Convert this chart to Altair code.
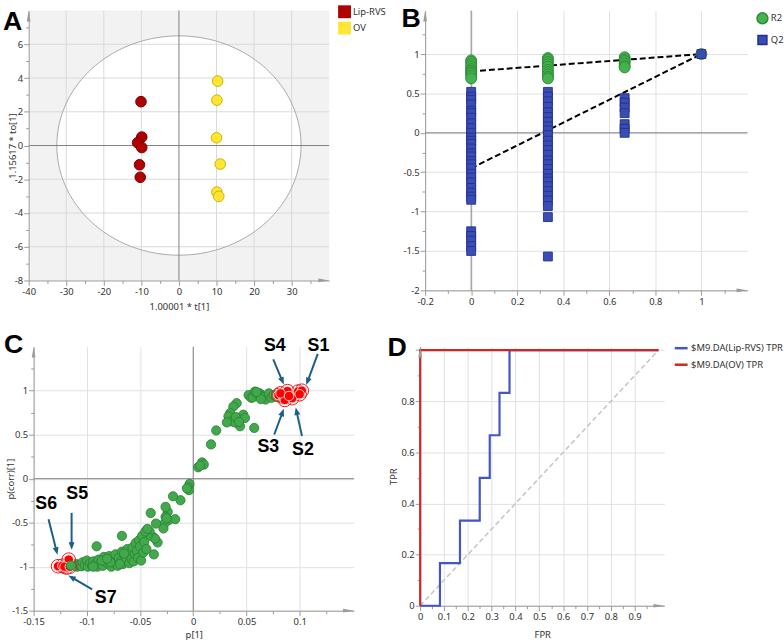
import math
import altair as alt
import numpy as np
import pandas as pd

FONT = "Noto Sans"
BOLD = "Liberation Sans"
AX = "#9b9b9b"
GRIDC = "#e1e1e1"
ZERO = "#7f7f7f"
LBL = "#333333"

# ---------------- Panel A data (scores plot) ----------------
a_group = ["Lip-RVS"] * 6 + ["OV"] * 6
a_t = [-10.1, -9.9, -11.0, -9.9, -10.5, -10.3, 10.3, 10.1, 10.0, 11.0, 10.1, 10.6]
a_to = [2.6, 0.5, 0.17, -0.12, -1.14, -1.88, 3.82, 2.69, 0.46, -1.1, -2.76, -3.01]
a_colors = ["#b00000", "#ffe633"]
a_strokes = ["#7a0000", "#c9b300"]
ell_a, ell_b = 32.5, 6.5
a_grid_x = [-30, -20, -10, 10, 20, 30]
a_grid_y = [-6, -4, -2, 2, 4, 6]

# ---------------- Panel B data (permutation test) ----------------
r2_x = [0] * 10 + [0.3333] * 10 + [0.6667] * 6 + [1]
r2_y = [0.92, 0.90, 0.87, 0.84, 0.81, 0.79, 0.77, 0.75, 0.72, 0.69,
        0.95, 0.93, 0.90, 0.87, 0.84, 0.80, 0.77, 0.74, 0.71, 0.69,
        0.96, 0.93, 0.91, 0.88, 0.85, 0.83,
        1.0]
q2_x = [0] * 31 + [0.3333] * 27 + [0.6667] * 7 + [1]
q2_y = [0.52, 0.46, 0.42, 0.36, 0.28, 0.25, 0.19, 0.12, 0.06, 0.0, -0.06, -0.1, -0.14,
        -0.2, -0.26, -0.3, -0.36, -0.4, -0.45, -0.52, -0.57, -0.63, -0.7, -0.76, -0.81,
        -0.85, -1.25, -1.31, -1.37, -1.44, -1.5,
        0.52, 0.46, 0.4, 0.33, 0.26, 0.2, 0.14, 0.08, 0.03, -0.03, -0.1, -0.16, -0.22,
        -0.28, -0.35, -0.4, -0.46, -0.52, -0.58, -0.62, -0.68, -0.74, -0.8, -0.86, -0.93,
        -1.07, -1.57,
        0.44, 0.38, 0.32, 0.25, 0.11, 0.05, 0.0,
        1.0]
b_line_series = ["R2", "R2", "Q2", "Q2"]
b_line_x = [0, 1, 0, 1]
b_line_y = [0.78, 1.0, -0.45, 1.0]

# ---------------- Panel C data (S-plot) ----------------
c_green = [
    (0.052, 0.95), (0.0545, 0.92), (0.056, 0.925), (0.058, 0.99), (0.0605, 0.96),
    (0.0625, 0.97), (0.064, 0.94), (0.0665, 0.93), (0.068, 0.90), (0.071, 0.97),
    (0.0735, 0.92), (0.0755, 0.95), (0.078, 0.93), (0.0635, 0.905), (0.0595, 0.985),
    (0.0408, 0.858), (0.0377, 0.82), (0.0347, 0.745), (0.0331, 0.71), (0.0362, 0.652),
    (0.0424, 0.69), (0.047, 0.727), (0.0486, 0.69), (0.044, 0.596), (0.039, 0.64),
    (0.0573, 0.577), (0.0316, 0.64), (0.040, 0.70), (0.043, 0.645),
    (0.0216, 0.548), (0.0167, 0.39), (0.0083, 0.185), (0.0046, 0.13), (0.0099, 0.16),
    (0.0065, 0.15),
    (-0.0035, -0.06), (-0.0045, -0.10), (-0.004, -0.13), (-0.006, -0.11), (-0.012, -0.245),
    (-0.019, -0.20),
    (-0.024, -0.377), (-0.026, -0.32), (-0.026, -0.433), (-0.023, -0.47), (-0.027, -0.51),
    (-0.017, -0.46), (-0.028, -0.565), (-0.025, -0.45),
    (-0.040, -0.39), (-0.035, -0.51), (-0.038, -0.66), (-0.0335, -0.725), (-0.037, -0.86),
    (-0.041, -0.60), (-0.036, -0.68), (-0.043, -0.65),
    (-0.112, -0.99), (-0.110, -0.97), (-0.109, -1.0), (-0.107, -0.98), (-0.105, -0.995),
    (-0.104, -0.95), (-0.102, -0.98), (-0.100, -0.93), (-0.099, -1.0), (-0.097, -0.96),
    (-0.095, -0.99), (-0.094, -0.94), (-0.092, -0.97), (-0.090, -1.0), (-0.089, -0.92),
    (-0.087, -0.96), (-0.085, -0.99), (-0.084, -0.89), (-0.082, -0.94), (-0.080, -0.97),
    (-0.079, -0.88), (-0.077, -1.0), (-0.076, -0.92), (-0.074, -0.96), (-0.073, -0.86),
    (-0.071, -0.99), (-0.070, -0.90), (-0.068, -0.94), (-0.067, -0.83), (-0.066, -0.97),
    (-0.064, -0.88), (-0.063, -0.92), (-0.062, -0.80), (-0.060, -0.96), (-0.059, -0.85),
    (-0.058, -0.91), (-0.057, -0.78), (-0.056, -0.94), (-0.055, -0.86), (-0.054, -0.73),
    (-0.053, -0.82), (-0.052, -0.90), (-0.051, -0.70), (-0.050, -0.77), (-0.049, -0.93),
    (-0.048, -0.65), (-0.047, -0.84), (-0.046, -0.72), (-0.045, -0.60), (-0.044, -0.80),
    (-0.043, -0.57), (-0.078, -0.95), (-0.086, -0.93), (-0.094, -1.0), (-0.081, -0.91),
    (-0.069, -0.97), (-0.065, -0.85), (-0.0908, -0.768), (-0.067, -0.65),
]
c_red = [
    (0.080, 0.95), (0.0845, 0.93), (0.0885, 0.995), (0.086, 0.895), (0.093, 0.915),
    (0.0985, 0.99), (0.102, 1.0), (0.100, 0.96), (0.082, 0.97), (0.090, 0.94),
    (-0.127, -0.995), (-0.123, -0.99), (-0.117, -0.92), (-0.119, -1.01), (-0.121, -1.0),
    (-0.116, -1.0),
]
c_green_front = [(-0.115, -0.987)]
c_lab_text = ["S1", "S2", "S3", "S4", "S5", "S6", "S7"]
c_lab_x = [0.1177, 0.1031, 0.0705, 0.0767, -0.109, -0.1382, -0.0823]
c_lab_y = [1.513, 0.326, 0.364, 1.513, -0.179, -0.291, -1.358]
c_arr_tx = [0.117, 0.1022, 0.0761, 0.0752, -0.1143, -0.136, -0.095]
c_arr_ty = [1.419, 0.484, 0.502, 1.356, -0.388, -0.46, -1.257]
c_arr_hx = [0.1062, 0.0963, 0.0851, 0.0851, -0.1143, -0.1276, -0.1174]
c_arr_hy = [1.064, 0.809, 0.794, 1.071, -0.808, -0.864, -1.10]

# ---------------- Panel D data (ROC) ----------------
lip_fpr = [0, 0.083, 0.083, 0.167, 0.167, 0.25, 0.25, 0.292, 0.292, 0.333, 0.333, 0.375, 0.375, 1.0]
lip_tpr = [0, 0, 0.167, 0.167, 0.333, 0.333, 0.5, 0.5, 0.667, 0.667, 0.833, 0.833, 1.0, 1.0]
ov_fpr = [0, 0, 1.0]
ov_tpr = [0, 1.0, 1.0]
d_series = ["$M9.DA(Lip-RVS) TPR", "$M9.DA(OV) TPR"]
d_colors = ["#4256c6", "#d42424"]
diag_x = [0, 1]
diag_y = [0, 1]

DUMMY = pd.DataFrame({"k": [0]})
UP = "M0,-1L0.34,1L-0.34,1Z"
RIGHT = "M1,0L-1,0.34L-1,-0.34Z"
HEAD = "M0,0L0.75,1.9L-0.75,1.9Z"


def tick_values(start, stop, step):
    n = int(round((stop - start) / step))
    return [round(start + i * step, 6) for i in range(n + 1)]


def make_axis(values, major, title=None, label_below=None, grid=True, zindex=0, tx=None, ty=None):
    test = f"abs(datum.value / {major} - round(datum.value / {major})) < 0.001"
    ltest = test if label_below is None else f"({test}) && datum.value < {label_below}"
    kw = dict(values=values, labelExpr=f"({ltest}) ? '' + datum.value : ''",
              tickSize={"condition": {"test": test, "value": 5}, "value": 3},
              labelOverlap=False, labelFlush=False, grid=grid, zindex=zindex, title=title)
    if grid:
        kw["gridOpacity"] = {"condition": {"test": test, "value": 1}, "value": 0}
    if tx is not None:
        kw["titleX"] = tx
        kw["titleBaseline"] = "middle"
    if ty is not None:
        kw["titleY"] = ty
        kw["titleBaseline"] = "middle"
    return alt.Axis(**kw)


def axis_arrows(W, H):
    up = alt.Chart(DUMMY).mark_point(shape=UP, filled=True, size=121, color=AX, opacity=1).encode(
        x=alt.value(0), y=alt.value(5.5))
    rt = alt.Chart(DUMMY).mark_point(shape=RIGHT, filled=True, size=121, color=AX, opacity=1).encode(
        x=alt.value(W - 5.5), y=alt.value(H))
    return [up, rt]


def letter(ch, dx, dy):
    return alt.Chart(pd.DataFrame({"t": [ch]})).mark_text(
        font=BOLD, fontSize=27, fontWeight="bold", align="left", baseline="alphabetic", color="black"
    ).encode(text="t:N", x=alt.value(dx), y=alt.value(dy))


def zero_rules(X, Y):
    z = pd.DataFrame({"v": [0]})
    return [alt.Chart(z).mark_rule(color=ZERO, strokeWidth=1).encode(x=X("v")),
            alt.Chart(z).mark_rule(color=ZERO, strokeWidth=1).encode(y=Y("v"))]


# ================= Panel A =================
WA, HA = 304, 273
sxA = alt.Scale(domain=[-40, 40], nice=False, zero=False)
syA = alt.Scale(domain=[-8, 8], nice=False, zero=False)
axAx = make_axis(tick_values(-40, 35, 5), 10, "1.00001 * t[1]", grid=False, zindex=1, ty=26)
axAy = make_axis(tick_values(-8, 7, 1), 2, "1.15617 * to[1]", grid=False, zindex=1, tx=-16)


def XA(f):
    return alt.X(f"{f}:Q", scale=sxA, axis=axAx)


def YA(f):
    return alt.Y(f"{f}:Q", scale=syA, axis=axAy)


th_half = np.linspace(0, np.pi, 181)
ell_half = pd.DataFrame({"x": ell_a * np.cos(th_half), "lo": -ell_b * np.sin(th_half),
                         "hi": ell_b * np.sin(th_half)})
th_full = np.linspace(0, 2 * np.pi, 361)
ell_full = pd.DataFrame({"i": np.arange(361), "x": ell_a * np.cos(th_full), "y": ell_b * np.sin(th_full)})
dfA = pd.DataFrame({"g": a_group, "t": a_t, "to": a_to})

A_bg = alt.Chart(DUMMY).mark_rect(color="#f2f2f2").encode(
    x=alt.value(0), x2=alt.value(WA), y=alt.value(0), y2=alt.value(HA))
A_white = alt.Chart(ell_half).mark_area(color="white", opacity=1).encode(
    x=XA("x"), y=YA("lo"), y2=alt.Y2("hi:Q"))
A_gx = alt.Chart(pd.DataFrame({"v": a_grid_x})).mark_rule(color="#dadada").encode(x=XA("v"))
A_gy = alt.Chart(pd.DataFrame({"v": a_grid_y})).mark_rule(color="#dadada").encode(y=YA("v"))
A_ell = alt.Chart(ell_full).mark_line(color="#a6a6a6", strokeWidth=1).encode(
    x=XA("x"), y=YA("y"), order="i:Q")
A_pts = alt.Chart(dfA).mark_point(filled=True, size=115, opacity=1, strokeWidth=1).encode(
    x=XA("t"), y=YA("to"),
    color=alt.Color("g:N", scale=alt.Scale(domain=["Lip-RVS", "OV"], range=a_colors),
                    legend=alt.Legend(orient="none", legendX=313, legendY=-5.3, title=None,
                                      symbolType="square", symbolSize=169, symbolStrokeWidth=0,
                                      symbolOpacity=1, rowPadding=3.5, labelOffset=2, padding=0)),
    stroke=alt.Stroke("g:N", scale=alt.Scale(domain=["Lip-RVS", "OV"], range=a_strokes), legend=None),
)
panelA = alt.layer(A_bg, A_white, A_gx, A_gy, A_ell, *zero_rules(XA, YA), A_pts,
                   *axis_arrows(WA, HA), letter("A", -26, 20)).properties(width=WA, height=HA)

# ================= Panel B =================
WB, HB = 326, 283
sxB = alt.Scale(domain=[-0.2, 1.2], nice=False, zero=False)
syB = alt.Scale(domain=[-2, 1.552], nice=False, zero=False)
axBx = make_axis(tick_values(-0.2, 1.1, 0.1), 0.2)
axBy = make_axis(tick_values(-2, 1.25, 0.25), 0.5)


def XB(f):
    return alt.X(f"{f}:Q", scale=sxB, axis=axBx)


def YB(f):
    return alt.Y(f"{f}:Q", scale=syB, axis=axBy)


dfB = pd.DataFrame({"s": ["R2"] * len(r2_x) + ["Q2"] * len(q2_x),
                    "x": r2_x + q2_x, "y": r2_y + q2_y})
dfBl = pd.DataFrame({"s": b_line_series, "x": b_line_x, "y": b_line_y})
B_lines = alt.Chart(dfBl).mark_line(color="black", strokeWidth=2, strokeDash=[6, 3]).encode(
    x=XB("x"), y=YB("y"), detail="s:N")
legB = alt.Legend(orient="none", legendX=334.7, legendY=1.3, title=None,
                  symbolSize=100, rowPadding=6, labelOffset=2, padding=0, symbolOpacity=1)
B_pts = alt.Chart(dfB).mark_point(filled=True, opacity=1, strokeWidth=0.9).encode(
    x=XB("x"), y=YB("y"),
    color=alt.Color("s:N", scale=alt.Scale(domain=["R2", "Q2"], range=["#46b14f", "#3a4db6"]),
                    legend=legB),
    shape=alt.Shape("s:N", scale=alt.Scale(domain=["R2", "Q2"], range=["circle", "square"]),
                    legend=legB),
    stroke=alt.Stroke("s:N", scale=alt.Scale(domain=["R2", "Q2"], range=["#2c8a36", "#22308a"]),
                      legend=None),
    size=alt.Size("s:N", scale=alt.Scale(domain=["R2", "Q2"], range=[121, 81]), legend=None),
)
panelB = alt.layer(*zero_rules(XB, YB), B_lines, B_pts, *axis_arrows(WB, HB),
                   letter("B", -24, 17)).properties(width=WB, height=HB)

# ================= Panel C =================
WC, HC = 324, 267
xdomC = [-0.15, 0.151]
ydomC = [-1.5, 1.5]
sxC = alt.Scale(domain=xdomC, nice=False, zero=False)
syC = alt.Scale(domain=ydomC, nice=False, zero=False)
axCx = make_axis(tick_values(-0.15, 0.125, 0.025), 0.05, "p[1]", ty=24)
axCy = make_axis(tick_values(-1.5, 1.25, 0.25), 0.5, "p(corr)[1]", tx=-23)


def XC(f):
    return alt.X(f"{f}:Q", scale=sxC, axis=axCx)


def YC(f):
    return alt.Y(f"{f}:Q", scale=syC, axis=axCy)


dfCg = pd.DataFrame(c_green, columns=["x", "y"])
dfCr = pd.DataFrame(c_red, columns=["x", "y"])
dfCf = pd.DataFrame(c_green_front, columns=["x", "y"])
pxC = WC / (xdomC[1] - xdomC[0])
pyC = HC / (ydomC[1] - ydomC[0])
arr_rows = []
for tx, ty, hx, hy in zip(c_arr_tx, c_arr_ty, c_arr_hx, c_arr_hy):
    dxp = (hx - tx) * pxC
    dyp = -(hy - ty) * pyC
    L = math.hypot(dxp, dyp)
    ux, uy = dxp / L, dyp / L
    ang = (math.degrees(math.atan2(dxp, -dyp)) + 360) % 360
    arr_rows.append({"tx": tx, "ty": ty, "ex": hx - ux * 4 / pxC, "ey": hy + uy * 4 / pyC,
                     "hx": hx, "hy": hy, "ang": ang})
dfArr = pd.DataFrame(arr_rows)
dfLab = pd.DataFrame({"t": c_lab_text, "x": c_lab_x, "y": c_lab_y})
ARC = "#1b5e87"

C_green = alt.Chart(dfCg).mark_point(filled=True, size=88, opacity=1, color="#41a94b",
                                     stroke="#2b7d34", strokeWidth=0.8).encode(x=XC("x"), y=YC("y"))
C_halo = alt.Chart(dfCr).mark_point(filled=False, size=190, opacity=1, color="#e02020",
                                    strokeWidth=1).encode(x=XC("x"), y=YC("y"))
C_red = alt.Chart(dfCr).mark_point(filled=True, size=92, opacity=1, color="#ff0000",
                                   stroke="#ffd0d0", strokeWidth=1).encode(x=XC("x"), y=YC("y"))
C_front = alt.Chart(dfCf).mark_point(filled=True, size=88, opacity=1, color="#41a94b",
                                     stroke="#2b7d34", strokeWidth=0.8).encode(x=XC("x"), y=YC("y"))
C_arr = alt.Chart(dfArr).mark_rule(color=ARC, strokeWidth=2).encode(
    x=XC("tx"), y=YC("ty"), x2="ex:Q", y2="ey:Q")
C_head = alt.Chart(dfArr).mark_point(shape=HEAD, filled=True, size=64, opacity=1, color=ARC).encode(
    x=XC("hx"), y=YC("hy"), angle=alt.Angle("ang:Q", scale=None))
C_lab = alt.Chart(dfLab).mark_text(font=BOLD, fontSize=18, fontWeight="bold", color="black",
                                   align="center", baseline="middle").encode(
    x=XC("x"), y=YC("y"), text="t:N")
panelC = alt.layer(*zero_rules(XC, YC), C_green, C_halo, C_red, C_front, C_arr, C_head, C_lab,
                   *axis_arrows(WC, HC), letter("C", -30, 6)).properties(width=WC, height=HC)

# ================= Panel D =================
WD, HD = 247, 262
sxD = alt.Scale(domain=[0, 1.025], nice=False, zero=False)
syD = alt.Scale(domain=[0, 1.0135], nice=False, zero=False)
axDx = make_axis(tick_values(0, 0.95, 0.05), 0.1, "FPR", ty=29)
axDy = make_axis(tick_values(0, 1.0, 0.1), 0.2, "TPR", label_below=0.99, tx=-27)


def XD(f):
    return alt.X(f"{f}:Q", scale=sxD, axis=axDx)


def YD(f):
    return alt.Y(f"{f}:Q", scale=syD, axis=axDy)


dfD = pd.DataFrame({
    "s": [d_series[0]] * len(lip_fpr) + [d_series[1]] * len(ov_fpr),
    "i": list(range(len(lip_fpr))) + list(range(len(ov_fpr))),
    "x": lip_fpr + ov_fpr, "y": lip_tpr + ov_tpr})
dfDiag = pd.DataFrame({"x": diag_x, "y": diag_y})
D_diag = alt.Chart(dfDiag).mark_line(color="#c4c4c4", strokeWidth=1.5, strokeDash=[5, 3]).encode(
    x=XD("x"), y=YD("y"))
D_roc = alt.Chart(dfD).mark_line(strokeWidth=2.2).encode(
    x=XD("x"), y=YD("y"), order="i:Q",
    color=alt.Color("s:N", scale=alt.Scale(domain=d_series, range=d_colors),
                    legend=alt.Legend(orient="none", legendX=256, legendY=-6.5, title=None,
                                      symbolType="stroke", symbolSize=169, symbolStrokeWidth=2.5,
                                      rowPadding=3.7, labelOffset=2, padding=0)))
panelD = alt.layer(D_diag, D_roc, *axis_arrows(WD, HD), letter("D", -33, 9)).properties(
    width=WD, height=HD)


def spacer(w):
    return alt.Chart(DUMMY).mark_point(opacity=0, size=1).properties(width=w, height=1)


IND = dict(color="independent", shape="independent", stroke="independent", size="independent")

row1 = alt.hconcat(panelA, panelB, spacing=97, bounds="flush").resolve_scale(**IND)
row2 = alt.hconcat(spacer(5), panelC, spacer(67), panelD, spacing=0, bounds="flush").resolve_scale(**IND)

chart = alt.vconcat(row1, row2, spacing=20).resolve_scale(**IND).properties(
    padding={"left": 3, "top": 1, "right": 0, "bottom": 0}
).configure(font=FONT).configure_view(stroke=None).configure_axis(
    domainColor=AX, tickColor=AX, labelColor=LBL, labelFont=FONT, labelFontSize=9.5,
    titleFont=FONT, titleFontSize=9.5, titleFontWeight="normal", titleColor=LBL,
    gridColor=GRIDC, labelPadding=1, titlePadding=3
).configure_legend(labelFont=FONT, labelFontSize=9.5, labelColor=LBL)

chart.save("out.html", embed_options={"renderer": "svg", "actions": False})
